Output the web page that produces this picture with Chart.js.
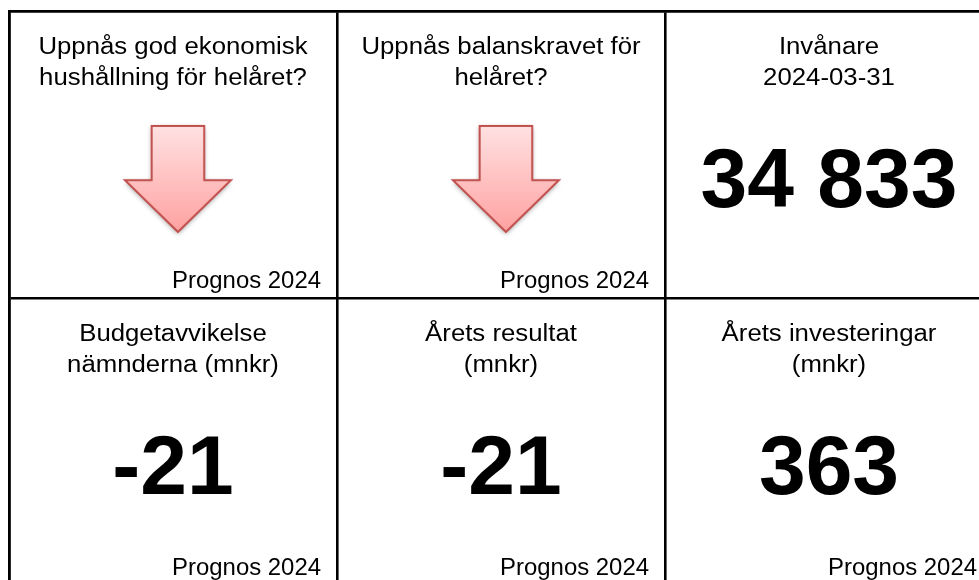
<!DOCTYPE html>
<html>
<head>
<meta charset="utf-8">
<script src="https://cdn.jsdelivr.net/npm/chart.js@4/dist/chart.umd.min.js"></script>
<style>
html,body{margin:0;padding:0;background:#fff;overflow:hidden;}
#wrap{width:979px;height:580px;position:relative;}
</style>
</head>
<body>
<div id="wrap"><canvas id="c" width="979" height="580"></canvas></div>
<script>
// ---- data ----
const cellTitles = [
  ["Uppnås god ekonomisk", "hushållning för helåret?"],
  ["Uppnås balanskravet för", "helåret?"],
  ["Invånare", "2024-03-31"],
  ["Budgetavvikelse", "nämnderna (mnkr)"],
  ["Årets resultat", "(mnkr)"],
  ["Årets investeringar", "(mnkr)"]
];
const cellValues = [null, null, 34833, -21, -21, 363];
const cellArrows = ["down", "down", null, null, null, null];
const cellFooters = ["Prognos 2024", "Prognos 2024", "", "Prognos 2024", "Prognos 2024", "Prognos 2024"];
const cellCols = [0, 1, 2, 0, 1, 2];
const cellRows = [0, 0, 0, 1, 1, 1];

function fmt(v) {
  const s = String(Math.abs(v)).replace(/\B(?=(\d{3})+(?!\d))/g, " ");
  return (v < 0 ? "-" : "") + s;
}

// arrow image (Office-style down arrow)
function makeArrow() {
  const W = 124, H = 130, cx = 62, cy = 65;
  const c = document.createElement("canvas");
  c.width = W; c.height = H;
  const g = c.getContext("2d");
  const sw = 26.3, hw = 53, top = -53, sh = 1.3, tip = 53;
  g.beginPath();
  g.moveTo(cx - sw, cy + top);
  g.lineTo(cx + sw, cy + top);
  g.lineTo(cx + sw, cy + sh);
  g.lineTo(cx + hw, cy + sh);
  g.lineTo(cx, cy + tip);
  g.lineTo(cx - hw, cy + sh);
  g.lineTo(cx - sw, cy + sh);
  g.closePath();
  const grad = g.createLinearGradient(0, cy + top, 0, cy + tip);
  grad.addColorStop(0, "#ffe2e2");
  grad.addColorStop(1, "#ffa2a2");
  g.save();
  g.shadowColor = "rgba(0,0,0,0.35)";
  g.shadowBlur = 5;
  g.shadowOffsetY = 2;
  g.fillStyle = grad;
  g.fill();
  g.restore();
  g.lineWidth = 2;
  g.strokeStyle = "#c0504d";
  g.lineJoin = "miter";
  g.stroke();
  return c;
}
const arrowImg = makeArrow();

const CELL_W = 328, CELL_H = 287, LEFT = 9, TOP = 11;
const xMax = (979 - LEFT) / CELL_W;
const yMax = (580 - TOP) / CELL_H;

const arrowPoints = [];
cellArrows.forEach((a, i) => {
  if (a) arrowPoints.push({ x: cellCols[i] + 0.515, y: cellRows[i] + 0.585 });
});

function drawStretched(ctx, text, x, y, sx, align) {
  ctx.save();
  ctx.translate(x, y);
  ctx.scale(sx, 1);
  ctx.textAlign = align;
  ctx.fillText(text, 0, 0);
  ctx.restore();
}

const textPlugin = {
  id: "cellText",
  afterDatasetsDraw(chart) {
    const ctx = chart.ctx;
    const xs = chart.scales.x, ys = chart.scales.y;
    ctx.save();
    ctx.fillStyle = "#000";
    ctx.textBaseline = "alphabetic";
    for (let i = 0; i < cellTitles.length; i++) {
      const col = cellCols[i], row = cellRows[i];
      const cx = xs.getPixelForValue(col + 0.5);
      const top = ys.getPixelForValue(row);
      const bottom = ys.getPixelForValue(row + 1);
      const right = xs.getPixelForValue(col + 1);
      ctx.font = "23px 'Liberation Sans', Arial, sans-serif";
      cellTitles[i].forEach((t, k) => {
        drawStretched(ctx, t, cx, top + 43 + k * 31, 1.12, "center");
      });
      if (cellValues[i] !== null) {
        ctx.font = "bold 84px 'Liberation Sans', Arial, sans-serif";
        drawStretched(ctx, fmt(cellValues[i]), cx, top + 196, 1, "center");
      }
      if (cellFooters[i]) {
        ctx.font = "23px 'Liberation Sans', Arial, sans-serif";
        drawStretched(ctx, cellFooters[i], right - 16, bottom - 10, 1.04, "right");
      }
    }
    ctx.restore();
  }
};

new Chart(document.getElementById("c"), {
  type: "scatter",
  data: {
    datasets: [{
      data: arrowPoints,
      pointStyle: arrowImg,
      pointRadius: 10,
      pointHoverRadius: 10,
      clip: false
    }]
  },
  options: {
    responsive: false,
    animation: false,
    events: [],
    layout: { autoPadding: false, padding: { left: LEFT, top: TOP, right: 0, bottom: 0 } },
    plugins: { legend: { display: false }, tooltip: { enabled: false } },
    scales: {
      x: {
        type: "linear", position: "top", min: 0, max: xMax,
        afterBuildTicks: (s) => { s.ticks = [{ value: 0 }, { value: 1 }, { value: 2 }]; },
        ticks: { display: false },
        grid: { color: "#000", lineWidth: 2.6, drawTicks: false },
        border: { display: true, color: "#000", width: 2.6 }
      },
      y: {
        type: "linear", position: "left", min: 0, max: yMax, reverse: true,
        afterBuildTicks: (s) => { s.ticks = [{ value: 0 }, { value: 1 }]; },
        ticks: { display: false },
        grid: { color: "#000", lineWidth: 2.6, drawTicks: false },
        border: { display: true, color: "#000", width: 2.6 }
      }
    }
  },
  plugins: [textPlugin]
});
</script>
</body>
</html>
